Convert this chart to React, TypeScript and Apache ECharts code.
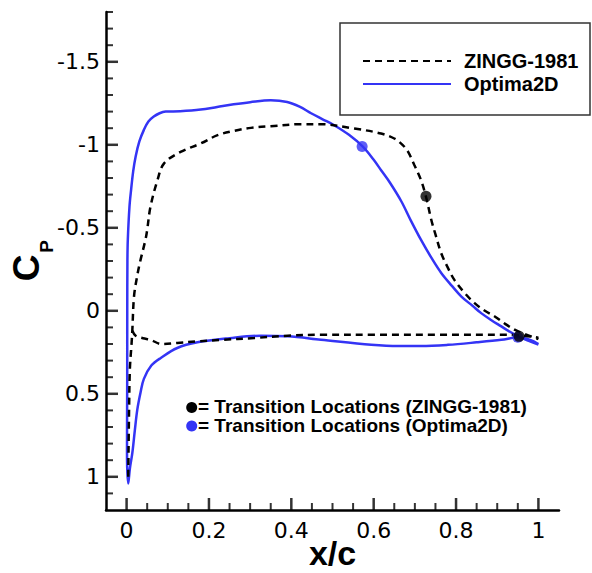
import React, { useEffect, useRef } from "react";
import * as echarts from "echarts";

// ---- Data ----
// Optima2D, upper surface, from stagnation point to trailing edge
const optimaUpperX = [0.004, 0.001, 0.0015, 0.0016, 0.002, 0.003, 0.007, 0.011, 0.016, 0.022, 0.031, 0.042, 0.053, 0.066, 0.08, 0.095, 0.13, 0.18, 0.22, 0.26, 0.3, 0.35, 0.39, 0.42, 0.448, 0.475, 0.504, 0.54, 0.573, 0.6, 0.618, 0.64, 0.667, 0.69, 0.715, 0.74, 0.764, 0.79, 0.813, 0.84, 0.861, 0.885, 0.91, 0.93, 0.951, 0.975, 1.0];
const optimaUpperY = [1.04, 0.85, 0.4, 0.0, -0.3, -0.43, -0.627, -0.73, -0.84, -0.93, -1.02, -1.09, -1.14, -1.17, -1.19, -1.2, -1.202, -1.212, -1.228, -1.244, -1.257, -1.268, -1.258, -1.23, -1.19, -1.155, -1.118, -1.06, -0.99, -0.91, -0.847, -0.77, -0.66, -0.545, -0.427, -0.32, -0.228, -0.15, -0.086, -0.03, 0.014, 0.055, 0.094, 0.125, 0.154, 0.18, 0.204];
// Optima2D, lower surface, from stagnation point to trailing edge
const optimaLowerX = [0.004, 0.008, 0.014, 0.02, 0.026, 0.034, 0.042, 0.06, 0.083, 0.123, 0.172, 0.25, 0.326, 0.391, 0.472, 0.594, 0.66, 0.715, 0.78, 0.85, 0.91, 0.951, 0.98, 1.0];
const optimaLowerY = [1.04, 0.95, 0.855, 0.72, 0.595, 0.49, 0.41, 0.33, 0.284, 0.224, 0.19, 0.165, 0.15, 0.154, 0.174, 0.204, 0.212, 0.212, 0.205, 0.19, 0.175, 0.16, 0.175, 0.2];

// ZINGG-1981, upper surface, from stagnation point to trailing edge
const zinggUpperX = [0.004, 0.006, 0.008, 0.012, 0.014, 0.018, 0.025, 0.032, 0.046, 0.05, 0.058, 0.075, 0.091, 0.131, 0.18, 0.221, 0.261, 0.302, 0.35, 0.423, 0.472, 0.553, 0.618, 0.65, 0.67, 0.683, 0.699, 0.715, 0.727, 0.74, 0.75, 0.764, 0.78, 0.796, 0.82, 0.845, 0.87, 0.894, 0.92, 0.951, 1.0];
const zinggUpperY = [1.0, 0.6, 0.35, 0.2, 0.114, -0.086, -0.2, -0.287, -0.43, -0.487, -0.627, -0.787, -0.888, -0.957, -1.008, -1.058, -1.084, -1.102, -1.112, -1.124, -1.124, -1.098, -1.068, -1.038, -1.0, -0.96, -0.877, -0.787, -0.687, -0.547, -0.46, -0.347, -0.26, -0.186, -0.11, -0.046, 0.0, 0.034, 0.08, 0.124, 0.17];
// ZINGG-1981, lower surface
const zinggLowerX = [0.014, 0.022, 0.04, 0.058, 0.085, 0.123, 0.172, 0.229, 0.31, 0.391, 0.472, 0.6, 0.75, 0.93, 1.0];
const zinggLowerY = [0.12, 0.15, 0.165, 0.175, 0.2, 0.194, 0.184, 0.175, 0.164, 0.15, 0.144, 0.144, 0.144, 0.144, 0.162];

// Transition locations
const zinggTransX = [0.727, 0.953];
const zinggTransY = [-0.69, 0.154];
const optimaTransX = [0.572, 0.95];
const optimaTransY = [-0.99, 0.16];

// Axes
const X_MIN = -0.05;
const X_MAX = 1.05;
const Y_MIN = -1.8;
const Y_MAX = 1.2;
const xMajorTicks = [0, 0.2, 0.4, 0.6, 0.8, 1];
const xMinorTicks = [0.05, 0.1, 0.15, 0.25, 0.3, 0.35, 0.45, 0.5, 0.55, 0.65, 0.7, 0.75, 0.85, 0.9, 0.95];
const yMajorTicks = [-1.5, -1, -0.5, 0, 0.5, 1];
const yMinorTicks = [-1.8, -1.7, -1.6, -1.4, -1.3, -1.2, -1.1, -0.9, -0.8, -0.7, -0.6, -0.4, -0.3, -0.2, -0.1, 0.1, 0.2, 0.3, 0.4, 0.6, 0.7, 0.8, 0.9, 1.1];

const seriesNames = ["ZINGG-1981", "Optima2D"];
const transitionTexts = ["= Transition Locations (ZINGG-1981)", "= Transition Locations (Optima2D)"];
const xName = "x/c";

const BLUE = "#3434f5";
const ARIAL = "'Liberation Sans', Arial, Helvetica, sans-serif";
const TICKFONT = "'DejaVu Sans', 'Liberation Sans', sans-serif";
const MAJOR_LEN = 12;
const MINOR_LEN = 7;

const zip = (xs: number[], ys: number[]) => xs.map((x, i) => [x, ys[i]]);

// inward tick marks drawn as thin rectangles placed by the chart's own scales
const tickSeries = (data: number[][], horizontalAxis: boolean, len: number, w: number) => ({
  type: "scatter",
  silent: true,
  clip: false,
  data,
  symbol: "rect",
  symbolSize: horizontalAxis ? [w, len] : [len, w],
  symbolOffset: horizontalAxis ? [0, -len / 2] : [len / 2, 0],
  itemStyle: { color: "#000" },
  z: 6,
});

export default function App() {
  const ref = useRef<HTMLDivElement>(null);
  useEffect(() => {
    if (!ref.current) return;
    const chart = echarts.init(ref.current, null, { renderer: "svg" });
    const optimaPath = [...zip(optimaLowerX, optimaLowerY).reverse(), ...zip(optimaUpperX, optimaUpperY).slice(1)];

    chart.setOption({
      animation: false,
      backgroundColor: "#ffffff",
      grid: { left: 106, right: 33, top: 12, bottom: 63, containLabel: false, outerBoundsMode: "none" },
      xAxis: {
        type: "value",
        min: X_MIN,
        max: X_MAX,
        position: "bottom",
        splitLine: { show: false },
        axisLine: { show: true, onZero: false, lineStyle: { color: "#000", width: 2.5 } },
        axisTick: { show: false },
        axisLabel: { show: true, customValues: xMajorTicks, fontSize: 22, color: "#000", margin: 9, fontFamily: TICKFONT },
      },
      yAxis: {
        type: "value",
        min: Y_MIN,
        max: Y_MAX,
        inverse: true,
        position: "left",
        splitLine: { show: false },
        axisLine: { show: true, onZero: false, lineStyle: { color: "#000", width: 2.5 } },
        axisTick: { show: false },
        axisLabel: { show: true, customValues: yMajorTicks, fontSize: 22, color: "#000", margin: 6, fontFamily: TICKFONT },
      },
      legend: {
        data: seriesNames,
        orient: "vertical",
        left: 362,
        top: 51,
        padding: 0,
        itemWidth: 88,
        itemHeight: 14,
        itemGap: 3,
        selectedMode: false,
        itemStyle: { color: "rgba(0,0,0,0)", borderWidth: 0, opacity: 0 },
        textStyle: { fontSize: 20, fontWeight: "bold", color: "#000", fontFamily: ARIAL, lineHeight: 20, padding: [0, 0, 0, 8] },
      },
      series: [
        tickSeries(xMajorTicks.map((v) => [v, Y_MAX]), true, MAJOR_LEN, 2.5),
        tickSeries(xMinorTicks.map((v) => [v, Y_MAX]), true, MINOR_LEN, 2),
        tickSeries(yMajorTicks.map((v) => [X_MIN, v]), false, MAJOR_LEN, 2.5),
        tickSeries(yMinorTicks.map((v) => [X_MIN, v]), false, MINOR_LEN, 2),
        {
          type: "line",
          name: seriesNames[1],
          data: optimaPath,
          symbol: "none",
          showSymbol: false,
          smooth: 0.35,
          lineStyle: { color: BLUE, width: 2.5 },
          itemStyle: { color: BLUE },
          z: 2,
        },
        {
          type: "line",
          name: seriesNames[0],
          data: zip(zinggUpperX, zinggUpperY),
          symbol: "none",
          showSymbol: false,
          smooth: 0.35,
          lineStyle: { color: "#000", width: 2.5, type: [7, 5] },
          itemStyle: { color: "#000" },
          z: 3,
        },
        {
          type: "line",
          name: seriesNames[0],
          data: zip(zinggLowerX, zinggLowerY),
          symbol: "none",
          showSymbol: false,
          smooth: 0.35,
          lineStyle: { color: "#000", width: 2.5, type: [7, 5] },
          itemStyle: { color: "#000" },
          z: 3,
        },
        {
          type: "scatter",
          name: "Optima2D transition",
          data: zip(optimaTransX, optimaTransY),
          symbol: "circle",
          symbolSize: 11,
          itemStyle: { color: BLUE },
          z: 4,
        },
        {
          type: "scatter",
          name: "ZINGG-1981 transition",
          data: zip(zinggTransX, zinggTransY),
          symbol: "circle",
          symbolSize: 11,
          itemStyle: { color: "#000" },
          z: 5,
        },
      ],
      graphic: [
        {
          type: "rect",
          z: 0,
          shape: { x: 340, y: 23, width: 250, height: 92 },
          style: { fill: "#fff", stroke: "#333", lineWidth: 1.5 },
        },
        { type: "circle", shape: { cx: 191.7, cy: 407.5, r: 5.5 }, style: { fill: "#000" } },
        { type: "circle", shape: { cx: 191.7, cy: 426, r: 5.5 }, style: { fill: BLUE } },
        {
          type: "text",
          x: 198,
          y: 406,
          style: { text: transitionTexts[0], fontSize: 19, lineHeight: 19, fontWeight: "bold", fill: "#000", fontFamily: ARIAL, verticalAlign: "middle", align: "left" },
        },
        {
          type: "text",
          x: 198,
          y: 425,
          style: { text: transitionTexts[1], fontSize: 19, lineHeight: 19, fontWeight: "bold", fill: "#000", fontFamily: ARIAL, verticalAlign: "middle", align: "left" },
        },
        {
          type: "text",
          x: 332.5,
          y: 553,
          style: { text: xName, fontSize: 34, lineHeight: 34, fontWeight: "bold", fill: "#000", fontFamily: ARIAL, verticalAlign: "middle", align: "center" },
        },
        {
          type: "group",
          x: 26,
          y: 268,
          rotation: Math.PI / 2,
          children: [
            {
              type: "text",
              x: 0,
              y: 0,
              style: { text: "C", fontSize: 37, fontWeight: "bold", fill: "#000", fontFamily: ARIAL, align: "center", verticalAlign: "middle" },
            },
            {
              type: "text",
              x: 21.7,
              y: 20.7,
              style: { text: "P", fontSize: 19, fontWeight: "bold", fill: "#000", fontFamily: ARIAL, align: "center", verticalAlign: "middle" },
            },
          ],
        },
      ],
    });

    return () => chart.dispose();
  }, []);
  return <div ref={ref} style={{ position: "fixed", left: 0, top: 0, width: 592, height: 573, background: "#fff" }} />;
}
